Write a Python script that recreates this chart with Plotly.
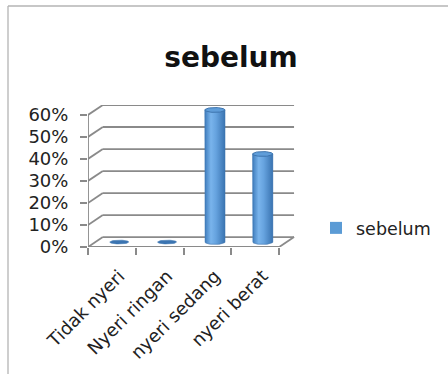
import numpy as np
import plotly.graph_objects as go

categories = ["Tidak nyeri", "Nyeri ringan", "nyeri sedang", "nyeri berat"]
values = [0.0, 0.0, 0.6, 0.4]
series_name = "sebelum"
title_text = "sebelum"
y_ticks = [0, 0.1, 0.2, 0.3, 0.4, 0.5, 0.6]
y_tick_labels = ["0%", "10%", "20%", "30%", "40%", "50%", "60%"]

W, H = 448, 374
ML, MR, MT, MB = 88, 153, 105, 127
DX, DY = 0.31, 0.045          # pseudo-3D depth in axis units
XR = [-0.5, len(categories) - 0.5 + DX + 0.02]
YR = [0, max(y_ticks) + DY]
HW = 0.21                      # cylinder half width (x units)
RY = 0.011                     # ellipse half height (y units)
GRID = "#8a8a8a"
FONT = "DejaVu Sans"

pw = W - ML - MR
ph = H - MT - MB
def px2paper_x(px): return (px - ML) / pw
def px2paper_y(py): return (H - MB - py) / ph

fig = go.Figure()

# legend / base bar trace
xc = [i + DX / 2 for i in range(len(categories))]
fig.add_trace(go.Bar(x=xc, y=values, base=[DY / 2] * len(values), width=2 * HW,
                     name=series_name, marker=dict(color="#5b9bd5", line=dict(width=0)),
                     showlegend=True, hoverinfo="skip"))

t = np.linspace(0, np.pi, 24)
for cx, v in zip(xc, values):
    yb = DY / 2
    yt = v + DY / 2
    if v > 0:
        bx = list(cx - HW * np.cos(t))
        by = list(yb - RY * np.sin(t))
        xs = [cx - HW] + bx + [cx + HW, cx - HW]
        ys = [yt] + by + [yt, yt]
        fig.add_trace(go.Scatter(x=xs, y=ys, mode="lines", fill="toself",
                                 line=dict(width=0.6, color="#3c72ad"),
                                 fillgradient=dict(type="horizontal",
                                                   colorscale=[[0, "#3f7dbd"], [0.3, "#79b4ec"],
                                                               [0.55, "#66a3df"], [1, "#3a74b1"]]),
                                 showlegend=False, hoverinfo="skip"))
        tt = np.linspace(0, 2 * np.pi, 48)
        fig.add_trace(go.Scatter(x=cx + HW * np.cos(tt), y=yt + RY * np.sin(tt), mode="lines",
                                 fill="toself", fillcolor="#5f9dd9",
                                 line=dict(width=1, color="#3d74ae"),
                                 showlegend=False, hoverinfo="skip"))
    else:
        tt = np.linspace(0, 2 * np.pi, 48)
        fig.add_trace(go.Scatter(x=cx + HW * 0.95 * np.cos(tt), y=yt + RY * 0.8 * np.sin(tt),
                                 mode="lines", fill="toself", fillcolor="#3b74b1",
                                 line=dict(width=0.5, color="#3b74b1"),
                                 showlegend=False, hoverinfo="skip"))

shapes = []
x0, x1 = -0.5, len(categories) - 0.5
def seg(a, b, c, d, w=1.8, color=GRID, xref="x", yref="y"):
    shapes.append(dict(type="line", x0=a, y0=b, x1=c, y1=d, xref=xref, yref=yref,
                       line=dict(color=color, width=w), layer="below"))

for yv in y_ticks:
    seg(x0, yv, x0 + DX, yv + DY)
    seg(x0 + DX, yv + DY, x1 + DX, yv + DY)
seg(x0, 0, x0, max(y_ticks))
seg(x0, 0, x1, 0)
seg(x1, 0, x1 + DX, DY)

# outer chart border (top and left)
seg(px2paper_x(8), px2paper_y(6), px2paper_x(W + 2), px2paper_y(6), w=1.3, color="#b4b4b4",
    xref="paper", yref="paper")
seg(px2paper_x(8), px2paper_y(6), px2paper_x(8), px2paper_y(H + 2), w=1.3, color="#b4b4b4",
    xref="paper", yref="paper")

fig.update_layout(
    width=W, height=H,
    margin=dict(l=ML, r=MR, t=MT, b=MB, pad=0, autoexpand=False),
    paper_bgcolor="white", plot_bgcolor="white",
    shapes=shapes,
    title=dict(text=f"<b>{title_text}</b>", x=px2paper_x(231), xref="paper", xanchor="center",
               y=1 - 57 / H, yanchor="middle",
               font=dict(family=FONT, size=28, color="#111")),
    xaxis=dict(range=XR, tickvals=xc, ticktext=categories,
               tickangle=-45, showgrid=False, zeroline=False, showline=False,
               ticks="", ticklabelstandoff=14, automargin=False,
               tickfont=dict(family=FONT, size=18, color="#222"),
               minor=dict(tickvals=[i - 0.5 for i in range(len(categories) + 1)],
                          ticks="outside", ticklen=7, tickcolor=GRID, tickwidth=1.5,
                          showgrid=False)),
    yaxis=dict(range=YR, tickvals=y_ticks, ticktext=y_tick_labels,
               showgrid=False, zeroline=False, showline=False, automargin=False,
               ticks="outside", ticklen=7, tickcolor=GRID, tickwidth=1.5,
               ticklabelstandoff=8,
               tickfont=dict(family=FONT, size=18, color="#222")),
    legend=dict(x=px2paper_x(316), y=px2paper_y(228), xanchor="left", yanchor="middle",
                font=dict(family=FONT, size=17.5, color="#222"), bgcolor="rgba(0,0,0,0)"),
    showlegend=True,
)

fig.write_html("out.html")
